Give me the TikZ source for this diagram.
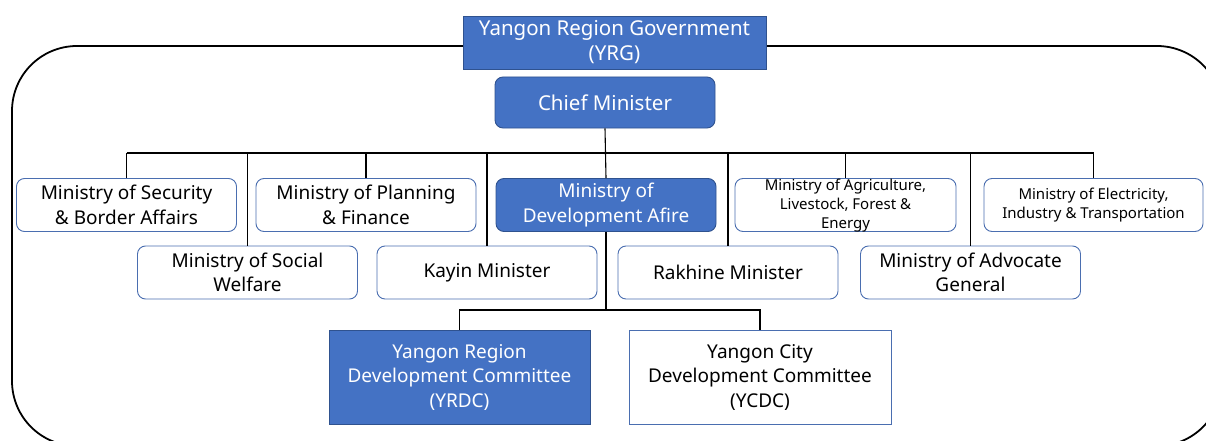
\documentclass[tikz,border=0pt]{standalone}
\usepackage{fontspec}
\setmainfont{Noto Sans}
\definecolor{boxblue}{HTML}{4472C4}
\definecolor{edgeblue}{HTML}{2F528F}
\definecolor{lineblue}{HTML}{4A6EB0}
\begin{document}
\begin{tikzpicture}[x=1pt,y=-1pt,
  base/.style={inner sep=0pt, align=center, line width=0.9pt},
  filledbox/.style={base, fill=boxblue, draw=edgeblue, text=white},
  plainbox/.style={base, fill=white, draw=lineblue, text=black},
  roundbox/.style={rounded corners=8pt},
  rowbox/.style={minimum width=220pt, minimum height=53pt},
  big/.style={font=\fontsize{20.5}{25}\selectfont},
  mid/.style={font=\fontsize{19}{24.5}\selectfont},
  small/.style={font=\fontsize{15}{19}\selectfont},
  wire/.style={draw=black, line width=1.1pt}
]
\useasboundingbox (0,0) rectangle (1206,441);
\clip (0,0) rectangle (1206,441);

% outer frame
\draw[line width=1.8pt, rounded corners=65pt] (12,46) rectangle (1222,446);

% top
\node[filledbox, big, minimum width=303pt, minimum height=53pt] (yrg) at (614.5,42.5)
  {Yangon Region Government\\(YRG)};
\node[filledbox, roundbox, big, minimum width=220pt, minimum height=51pt] (chief) at (605,102.5)
  {Chief Minister};

% first row
\node[plainbox, roundbox, rowbox, mid] (sec) at (126.5,205) {Ministry of Security\\\& Border Affairs};
\node[plainbox, roundbox, rowbox, mid] (plan) at (366,205) {Ministry of Planning\\\& Finance};
\node[filledbox, roundbox, rowbox, mid] (dev) at (606,205) {Ministry of\\Development Afire};
\node[plainbox, roundbox, rowbox, minimum width=221pt] (agri) at (845.5,205) {};
\node[small, align=center, inner sep=0pt] (agritext) at (845.5,206)
  {Ministry of Agriculture,\\Livestock, Forest \&\\Energy};
\node[plainbox, roundbox, rowbox, minimum width=219pt, small] (elec) at (1093.5,205)
  {Ministry of Electricity,\\Industry \& Transportation};

% second row
\node[plainbox, roundbox, rowbox, mid] (soc) at (247.5,272.5) {Ministry of Social\\Welfare};
\node[plainbox, roundbox, rowbox, mid] (kayin) at (487,272.5) {Kayin Minister};
\node[plainbox, roundbox, rowbox, mid] (rakh) at (728,272.5) {Rakhine Minister};
\node[plainbox, roundbox, rowbox, mid] (adv) at (970.5,272.5) {Ministry of Advocate\\General};

% committees
\node[filledbox, mid, minimum width=261pt, minimum height=94pt] (yrdc) at (459.5,377)
  {Yangon Region\\Development Committee\\(YRDC)};
\node[plainbox, mid, minimum width=262pt, minimum height=94pt] (ycdc) at (760,377)
  {Yangon City\\Development Committee\\(YCDC)};

% connectors
\coordinate (bus) at (605,153);
\coordinate (split) at (606,310);
\draw[wire] (chief.south) -- (dev.north);
\draw[wire] (sec.north |- bus) -- (elec.north |- bus);
\foreach \b in {sec,plan,agri,elec}
  \draw[wire] (\b.north |- bus) -- (\b.north);
\foreach \b in {soc,kayin,rakh,adv}
  \draw[wire] (\b.north |- bus) -- (\b.north);
\draw[wire] (dev.south) -- (split);
\draw[wire] (yrdc.north) |- (split) -| (ycdc.north);
\end{tikzpicture}
\end{document}
